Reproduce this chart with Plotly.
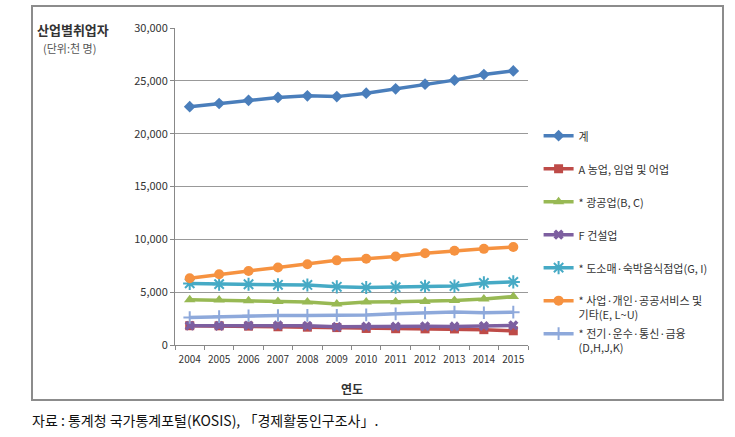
import plotly.graph_objects as go

years = ["2004", "2005", "2006", "2007", "2008", "2009", "2010", "2011", "2012", "2013", "2014", "2015"]

total = [22557, 22856, 23151, 23433, 23577, 23506, 23829, 24244, 24681, 25066, 25599, 25936]
agri = [1825, 1815, 1785, 1726, 1686, 1648, 1566, 1542, 1528, 1520, 1452, 1345]
mining_mfg = [4290, 4250, 4180, 4120, 4070, 3880, 4060, 4090, 4110, 4200, 4350, 4580]
construction = [1820, 1814, 1835, 1850, 1812, 1720, 1753, 1751, 1773, 1754, 1796, 1854]
wholesale = [5830, 5760, 5750, 5700, 5680, 5510, 5440, 5470, 5560, 5580, 5870, 5970]
services = [6320, 6690, 7010, 7330, 7640, 8010, 8170, 8380, 8680, 8920, 9100, 9270]
elec_trans = [2600, 2690, 2760, 2790, 2800, 2810, 2850, 2950, 3030, 3130, 3050, 3110]

names = [
    "계",
    "A 농업, 임업 및 어업",
    "* 광공업(B, C)",
    "F 건설업",
    "* 도소매·숙박음식점업(G, I)",
    "* 사업·개인·공공서비스 및<br>기타(E, L~U)",
    "* 전기·운수·통신·금융<br>(D,H,J,K)",
]
series = [total, agri, mining_mfg, construction, wholesale, services, elec_trans]
colors = ["#4A7EBB", "#BE4B48", "#98B954", "#7D5FA0", "#46AAC5", "#F69240", "#8EA9DB"]
symbols = ["diamond", "square", "triangle-up", "x", "asterisk-open", "circle", "cross-thin-open"]
sizes = [9, 9, 10, 9, 11, 10, 9]
legends = ["legend", "legend", "legend", "legend", "legend", "legend", "legend2"]

FONT = "Noto Sans CJK KR"

fig = go.Figure()
for i, (nm, vals) in enumerate(zip(names, series)):
    sym = symbols[i]
    marker = dict(symbol=sym, size=sizes[i], color=colors[i])
    if sym.endswith("open"):
        marker["line"] = dict(color=colors[i], width=2)
    fig.add_trace(go.Scatter(
        x=years, y=vals, name=nm, mode="lines+markers",
        line=dict(color=colors[i], width=3.5),
        marker=marker, legendgroup=f"g{i}", legend=legends[i],
    ))

def px_x(p):
    return (p - 175) / 353

def px_y(p):
    return (345 - p) / 317

legend_common = dict(
    x=1.03, xanchor="left", yanchor="top",
    font=dict(family=FONT, size=11, color="#333"),
    tracegroupgap=14, valign="top", bgcolor="rgba(0,0,0,0)",
)

fig.update_layout(
    width=735, height=437,
    margin=dict(l=175, r=207, t=28, b=92),
    paper_bgcolor="white", plot_bgcolor="white",
    font=dict(family=FONT, size=11, color="#333"),
    legend=dict(y=px_y(122), **legend_common),
    legend2=dict(y=px_y(320), **legend_common),
    showlegend=True,
)
fig.update_xaxes(
    type="category", range=[-0.5, 11.5], tickangle=0,
    showline=True, linecolor="#888", linewidth=1,
    ticks="outside", tickson="boundaries", ticklen=4, tickcolor="#888",
    ticklabelstandoff=5,
    showgrid=False, tickfont=dict(size=10, color="#333"),
)
fig.update_yaxes(
    range=[0, 30000], dtick=5000, tickformat=",",
    showline=True, linecolor="#888", linewidth=1,
    ticks="outside", ticklen=4, tickcolor="#888",
    showgrid=True, gridcolor="#999", gridwidth=1,
    zeroline=False, tickfont=dict(size=11, color="#333"),
)

# outer frame
fig.add_shape(type="rect", xref="paper", yref="paper",
              x0=px_x(32), x1=px_x(723), y0=px_y(400), y1=px_y(6),
              line=dict(color="#8c8c8c", width=2), layer="below")

fig.add_annotation(xref="paper", yref="paper", x=px_x(35), y=px_y(30),
                   xanchor="left", yanchor="middle", showarrow=False,
                   text="<b>산업별취업자</b>", font=dict(family=FONT, size=13, color="#333"))
fig.add_annotation(xref="paper", yref="paper", x=px_x(41), y=px_y(48),
                   xanchor="left", yanchor="middle", showarrow=False,
                   text="(단위:천 명)", font=dict(family=FONT, size=11, color="#555"))
fig.add_annotation(xref="paper", yref="paper", x=0.5, y=px_y(388),
                   xanchor="center", yanchor="middle", showarrow=False,
                   text="<b>연도</b>", font=dict(family=FONT, size=12, color="#333"))
fig.add_annotation(xref="paper", yref="paper", x=px_x(30), y=px_y(420),
                   xanchor="left", yanchor="middle", showarrow=False,
                   text="자료 : 통계청 국가통계포털(KOSIS), 「경제활동인구조사」.",
                   font=dict(family=FONT, size=14, color="#111"))

fig.write_html("out.html")
